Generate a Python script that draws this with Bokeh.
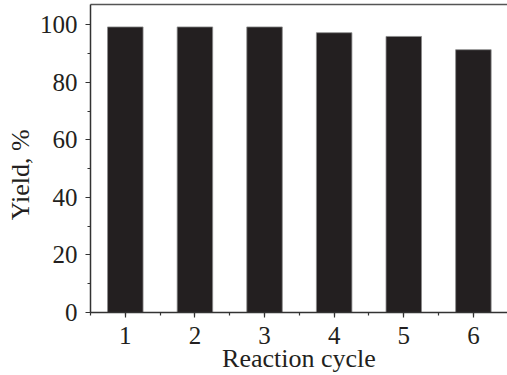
from bokeh.plotting import figure
from bokeh.models import Range1d, SingleIntervalTicker, ColumnDataSource, LinearAxis, FixedTicker
from bokeh.embed import file_html
from bokeh.resources import INLINE

cycles = [1, 2, 3, 4, 5, 6]
yields = [99.2, 99.2, 99.2, 97.2, 95.9, 91.3]

src = ColumnDataSource(dict(x=cycles, top=yields))

p = figure(width=507, height=375, output_backend="svg", toolbar_location=None,
           x_range=Range1d(0.5, 6.49), y_range=Range1d(0, 107),
           min_border_left=90, min_border_top=4, min_border_right=0,
           background_fill_color="white", border_fill_color="white")

p.vbar(x="x", top="top", bottom=0, width=0.51, source=src,
       fill_color="#231f20", line_color="#8a8a8a", line_width=0.8)

p.xgrid.visible = False
p.ygrid.visible = False
p.outline_line_color = None

xax = p.below[0]
yax = p.left[0]

# top border line only (right edge is outside the picture in the reference)
top_axis = LinearAxis(ticker=FixedTicker(ticks=[]), axis_line_color="#555555",
                      axis_line_width=1.7, major_tick_line_color=None,
                      minor_tick_line_color=None, major_label_text_font_size="0px")
p.add_layout(top_axis, "above")

FONT = "Liberation Serif"
for ax in (xax, yax):
    ax.axis_line_color = "#333333"
    ax.axis_line_width = 1.5
    ax.major_tick_line_color = "#333333"
    ax.minor_tick_line_color = "#333333"
    ax.major_tick_line_width = 1.2
    ax.minor_tick_line_width = 1.2
    ax.major_tick_in = 0
    ax.major_tick_out = 5
    ax.minor_tick_in = 0
    ax.minor_tick_out = 3
    ax.major_label_text_font = FONT
    ax.major_label_text_font_size = "25px"
    ax.major_label_text_color = "#231f20"
    ax.axis_label_text_font = FONT
    ax.axis_label_text_font_size = "26px"
    ax.axis_label_text_font_style = "normal"
    ax.axis_label_text_color = "#231f20"

xax.ticker = SingleIntervalTicker(interval=1, num_minor_ticks=2)
yax.ticker = SingleIntervalTicker(interval=20, num_minor_ticks=2)
xax.axis_label = "Reaction cycle"
yax.axis_label = "Yield, %" + "\u00a0" * 5
xax.major_label_standoff = 9
xax.axis_label_standoff = -3
yax.major_label_standoff = 8
yax.axis_label_standoff = 2

open("out.html", "w").write(file_html(p, INLINE))
